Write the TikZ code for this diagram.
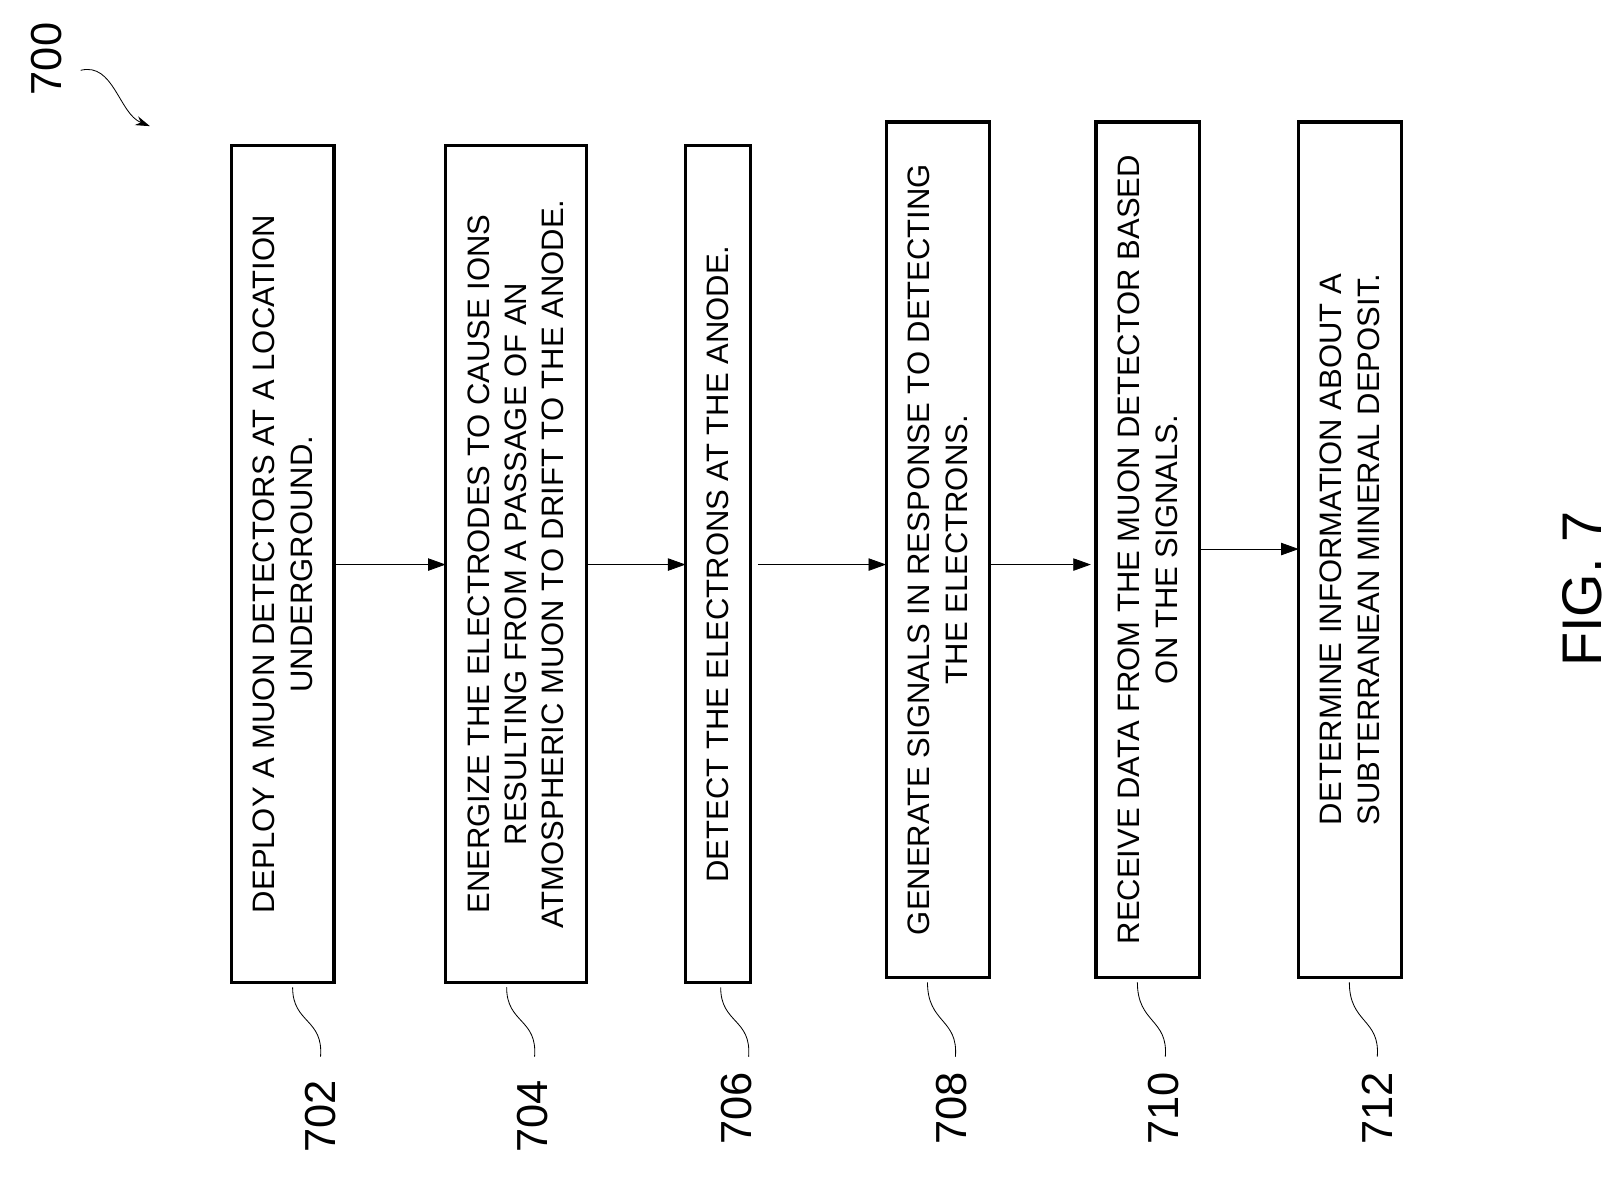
\documentclass[tikz,border=0pt]{standalone}
\usepackage{fontspec}
\setmainfont{Liberation Sans}
\usetikzlibrary{arrows.meta}
\begin{document}
\begin{tikzpicture}[x=1pt,y=-1pt,
 box/.style={draw,line width=3pt,inner sep=0pt},
 txt/.style={rotate=90,align=center,font=\fontsize{30}{36}\selectfont},
 lab/.style={rotate=90,font=\fontsize{42}{42}\selectfont},
 arr/.style={-{Triangle[length=17pt,width=12pt]},line width=0.8pt},
 lead/.style={line width=0.8pt}]
\useasboundingbox (0,0) rectangle (1560,1140);
\foreach \n/\l/\r/\t/\b in {702/224/323/141/950,704/431/567/141/950,706/663/726/141/950,708/857/957/118/945,710/1060/1160/118/945,712/1256/1355/118/945}{
  \draw[box] (\l,\t) rectangle (\r,\b);
  \coordinate (b\n) at ({(\l+\r)/2},{(\t+\b)/2});
}
\node[txt] (t702) at (b702) {DEPLOY A MUON DETECTORS AT A LOCATION\\UNDERGROUND.};
\node[txt] (t704) at (b704) {ENERGIZE THE ELECTRODES TO CAUSE IONS\\RESULTING FROM A PASSAGE OF AN\\ATMOSPHERIC MUON TO DRIFT TO THE ANODE.};
\node[txt] (t706) at (b706) {DETECT THE ELECTRONS AT THE ANODE.};
\node[txt] (t708) at (b708) {GENERATE SIGNALS IN RESPONSE TO DETECTING\\THE ELECTRONS.};
\node[txt] (t710) at (b710) {RECEIVE DATA FROM THE MUON DETECTOR BASED\\ON THE SIGNALS.};
\node[txt] (t712) at (b712) {DETERMINE INFORMATION ABOUT A\\SUBTERRANEAN MINERAL DEPOSIT.};
\coordinate (a1) at (323,546); \coordinate (a2) at (431,546);
\coordinate (a3) at (567,546); \coordinate (a4) at (663,546);
\coordinate (a5) at (733,546); \coordinate (a6) at (857,546);
\coordinate (a7) at (957,546); \coordinate (a8) at (1055,546);
\coordinate (a9) at (1162,531); \coordinate (a10) at (1256,531);
\draw[arr] (a1)--(a2); \draw[arr] (a3)--(a4); \draw[arr] (a5)--(a6);
\draw[arr] (a7)--(a8); \draw[arr] (a9)--(a10);
\foreach \n/\x/\y in {702/310/1080,704/515/1080,706/712/1072,708/920/1072,710/1125/1072,712/1332/1072}{
  \node[lab] (l\n) at (\x,\y) {\n};
}
\foreach \n/\x/\y in {702/283/955,704/490/955,706/697/955,708/897/950,710/1100/950,712/1305/950}{
  \coordinate (s\n) at (\x,\y);
  \draw[lead] (s\n) .. controls ({\x},990) and ({\x+30},985) .. ({\x+27},{1022});
}
\node[lab] (l700) at (45,57) {700};
\coordinate (c700) at (145,122);
\draw[-{Stealth[length=14pt,width=9pt]},line width=0.8pt] (78,68) .. controls (110,60) and (115,110) .. (c700);
\node[rotate=90,font=\fontsize{54}{54}\selectfont] (fig) at (1530,570) {FIG. 7};
\end{tikzpicture}
\end{document}
